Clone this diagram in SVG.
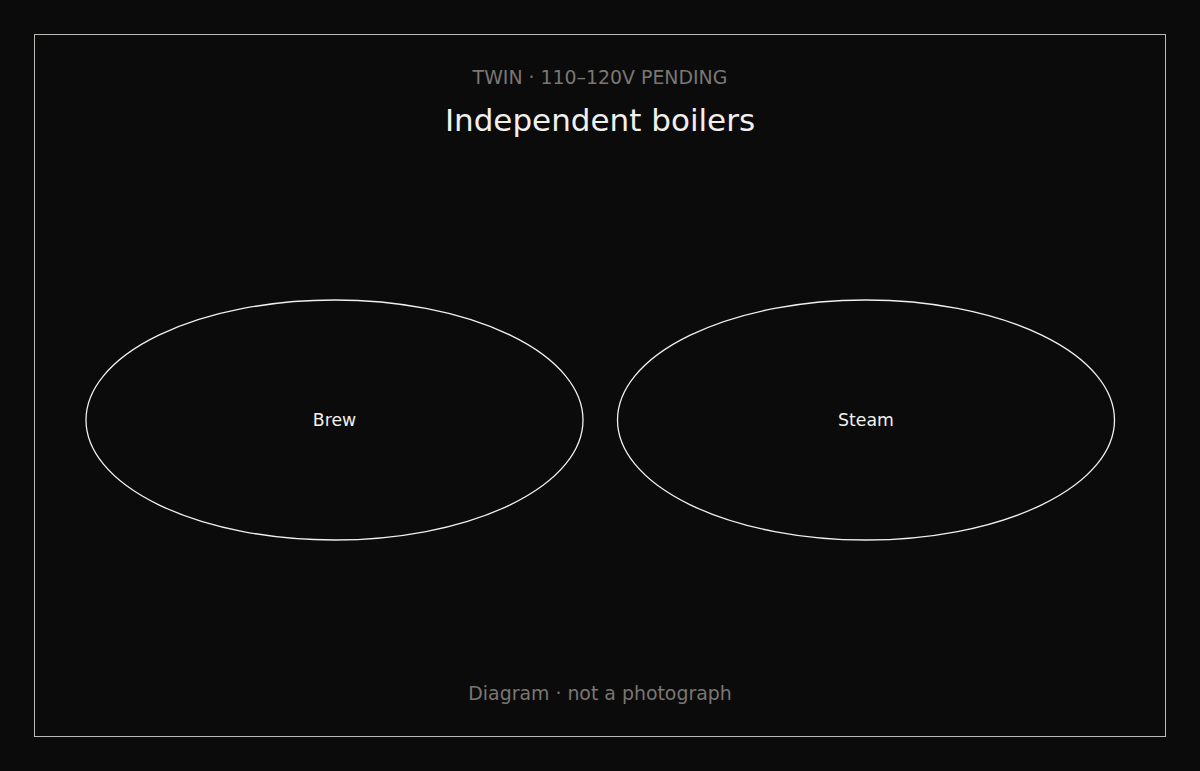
<svg xmlns="http://www.w3.org/2000/svg" width="1200" height="771" viewBox="0 0 1200 771">
<style>
text{font-family:"DejaVu Sans","Noto Sans",sans-serif;text-anchor:middle}
.muted{fill:#7a7773;font-size:18.9px}
.title{fill:#f2f0ec;font-size:31px}
.lbl{fill:#f2f0ec;font-size:17.3px}
.boiler{fill:none;stroke:#f2f0ec;stroke-width:1.3}
</style>
<rect width="1200" height="771" fill="#0b0b0b"/>
<rect x="34.5" y="34.5" width="1131" height="702" fill="none" stroke="#bdbbb7" stroke-width="1"/>
<text class="muted" x="600" y="84">TWIN · 110–120V PENDING</text>
<text class="title" x="600" y="131">Independent boilers</text>
<g id="brew">
<ellipse class="boiler" cx="334.5" cy="420" rx="248.5" ry="120"/>
<text class="lbl" x="334.5" y="426">Brew</text>
</g>
<g id="steam">
<ellipse class="boiler" cx="866" cy="420" rx="248.5" ry="120"/>
<text class="lbl" x="866" y="426">Steam</text>
</g>
<g id="connectors"/>
<text class="muted" x="600" y="700">Diagram · not a photograph</text>
</svg>
